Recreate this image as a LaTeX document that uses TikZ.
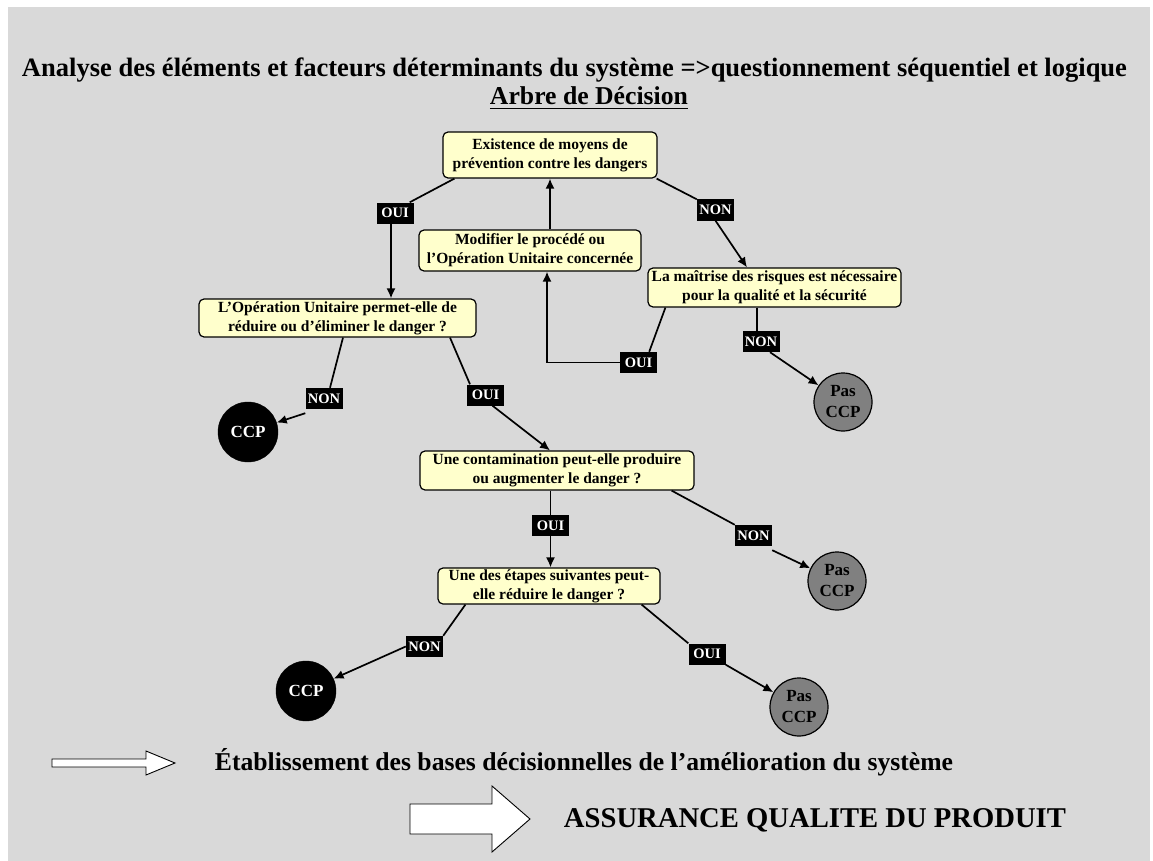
\documentclass[tikz,border=0pt]{standalone}
\usepackage{fontspec}
\setmainfont{Liberation Serif}
\usetikzlibrary{arrows.meta,calc}
\definecolor{bg}{HTML}{D9D9D9}
\definecolor{boxy}{HTML}{FFFFCC}
\definecolor{pasgray}{HTML}{808080}
\begin{document}
\begin{tikzpicture}[x=1pt,y=-1pt,
 qbox/.style={draw=black, line width=1.2pt, fill=boxy, rounded corners=5pt, align=center, font=\fontsize{15.5}{19}\selectfont\bfseries, inner sep=1pt},
 lab/.style={fill=black, text=white, font=\fontsize{14.5}{15}\selectfont\bfseries, minimum height=21pt, minimum width=37pt, inner xsep=2pt, inner ysep=0pt},
 ccp/.style={circle, fill=black, draw=black, text=white, minimum size=60pt, font=\fontsize{17}{17}\selectfont\bfseries, inner sep=0pt},
 pas/.style={circle, fill=pasgray, draw=black, line width=1.2pt, minimum size=58pt, align=center, font=\fontsize{17}{21}\selectfont\bfseries, inner sep=0pt},
 ln/.style={line width=1.7pt},
 arr/.style={line width=1.7pt, -{Latex[length=10pt,width=9pt]}},
 bigarrow/.style={draw=black, line width=0.9pt, fill=white},
]
\useasboundingbox (0,0) rectangle (1153,861);
\fill[white] (0,0) rectangle (1153,861);
\fill[bg] (8,7) rectangle (1150,861);

% titles
\node[inner sep=0pt] (title) at (574.5,70) {\resizebox{1105pt}{!}{\bfseries Analyse des éléments et facteurs déterminants du système =>questionnement séquentiel et logique}};
\node[inner sep=0pt, anchor=base] (arbre) at (589,105) {\resizebox{198pt}{!}{\bfseries\underline{Arbre de Décision}}};

% question boxes
\node[qbox, minimum width=214pt, minimum height=46pt] (A) at (550,155) {Existence de moyens de\\prévention contre les dangers};
\node[qbox, minimum width=222pt, minimum height=41pt] (M) at (530,250.5) {Modifier le procédé ou\\l’Opération Unitaire concernée};
\node[qbox, minimum width=253pt, minimum height=39pt] (R) at (774.5,287.5) {La maîtrise des risques est nécessaire\\pour la qualité et la sécurité};
\node[qbox, minimum width=277pt, minimum height=38pt] (O) at (337.5,318) {L’Opération Unitaire permet-elle de\\réduire ou d’éliminer le danger ?};
\node[qbox, minimum width=274pt, minimum height=39pt] (C) at (557,470.5) {Une contamination peut-elle produire\\ou augmenter le danger ?};
\node[qbox, minimum width=222pt, minimum height=36pt] (E) at (549,586) {Une des étapes suivantes peut-\\elle réduire le danger ?};

% labels
\node[lab] (oui1) at (395,213) {OUI};
\node[lab] (non1) at (715.5,210) {NON};
\node[lab] (oui2) at (638.5,362.5) {OUI};
\node[lab] (non2) at (761,341.5) {NON};
\node[lab] (non3) at (324,398.5) {NON};
\node[lab] (oui3) at (485.5,395) {OUI};
\node[lab] (oui4) at (550.5,525.5) {OUI};
\node[lab] (non4) at (753.5,535.5) {NON};
\node[lab] (non5) at (424.5,646.5) {NON};
\node[lab] (oui5) at (707,654) {OUI};

% end circles
\node[ccp] (ccp1) at (248,432) {CCP};
\node[pas] (pas1) at (843,402) {Pas\\CCP};
\node[pas] (pas2) at (837,581) {Pas\\CCP};
\node[ccp] (ccp2) at (306,691) {CCP};
\node[pas] (pas3) at (799,707) {Pas\\CCP};

% connectors
\draw[ln] ([xshift=12pt]A.south west) -- ([xshift=-4pt]oui1.north east);
\draw[arr] ([xshift=-4pt]oui1.south) -- ([xshift=-4pt]oui1.south |- O.north);
\draw[ln] ([xshift=-1pt]A.south east) -- (non1.north west);
\draw[arr] (non1.south) -- ([xshift=-27.5pt]R.north);
\draw[arr] (M.north -| A.south) -- (A.south);
\draw[ln] ([xshift=18pt]R.south west) -- ([xshift=-8pt]oui2.north east);
\draw[arr] (oui2.west) -| ([xshift=17pt]M.south);
\draw[ln] ([xshift=-4pt]non2.north |- R.south) -- ([xshift=-4pt]non2.north);
\draw[arr] ([xshift=9pt]non2.south) -- (pas1);
\draw[ln] ([xshift=5.5pt]O.south) -- ([xshift=6pt]non3.north);
\draw[arr] ([yshift=-4pt]non3.south west) -- (ccp1);
\draw[ln] ([xshift=112.5pt]O.south) -- ([xshift=-15.5pt]oui3.north);
\draw[arr] ([xshift=7pt]oui3.south) -- ([xshift=-7pt]C.north);
\draw[ln] (oui4.north |- C.south) -- (oui4.north);
\draw[arr] (oui4.south) -- (oui4.south |- E.north);
\draw[ln] ([xshift=-23pt]C.south east) -- (non4.north west);
\draw[arr] ([yshift=-4pt]non4.south east) -- (pas2);
\draw[ln] ([xshift=28pt]E.south west) -- (non5.north east);
\draw[arr] (non5.west) -- (ccp2);
\draw[ln] ([xshift=-19pt]E.south east) -- (oui5.north west);
\draw[arr] (oui5.south east) -- (pas3);

% bottom
\draw[bigarrow] (52,759) -- (146,759) -- (146,751) -- (175,763) -- (146,775) -- (146,767) -- (52,767) -- cycle;
\node[inner sep=0pt] (etab) at (584,762) {\resizebox{738pt}{!}{\bfseries Établissement des bases décisionnelles de l’amélioration du système}};
\draw[bigarrow] (410,804) -- (492,804) -- (492,786) -- (530,819) -- (492,852) -- (492,834) -- (410,834) -- cycle;
\node[inner sep=0pt] (assur) at (815,820) {\resizebox{502pt}{!}{\bfseries ASSURANCE QUALITE DU PRODUIT}};
\end{tikzpicture}
\end{document}
